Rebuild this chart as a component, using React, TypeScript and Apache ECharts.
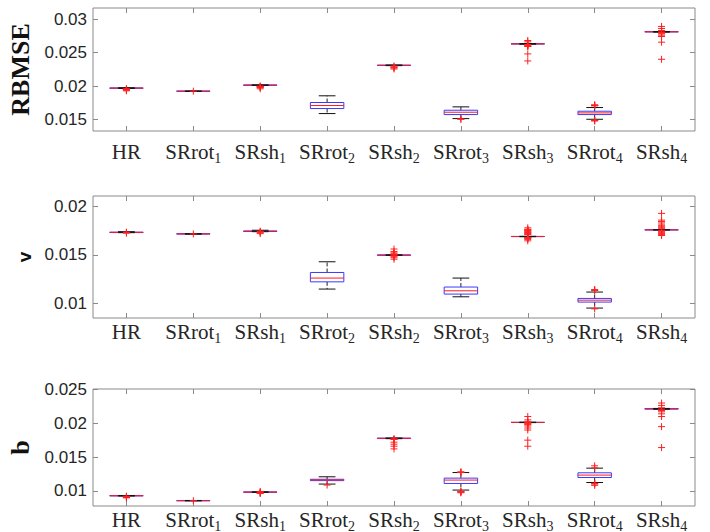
import React, { useEffect, useRef } from "react";
import * as echarts from "echarts";

const categories = ["HR", "SRrot1", "SRsh1", "SRrot2", "SRsh2", "SRrot3", "SRsh3", "SRrot4", "SRsh4"];

// box stats per category: [lowerWhisker, q1, median, q3, upperWhisker]
const rbmseBoxes = [
  [0.01965, 0.01968, 0.0197, 0.01972, 0.01975],
  [0.01922, 0.01923, 0.01924, 0.01925, 0.01926],
  [0.0201, 0.02012, 0.02014, 0.02016, 0.02018],
  [0.0159, 0.01665, 0.0171, 0.01755, 0.01855],
  [0.02305, 0.02308, 0.0231, 0.02312, 0.02315],
  [0.01515, 0.01575, 0.0161, 0.0164, 0.0169],
  [0.02625, 0.02628, 0.0263, 0.02632, 0.02635],
  [0.01505, 0.01575, 0.016, 0.01625, 0.0168],
  [0.02805, 0.02808, 0.0281, 0.02812, 0.02815],
];
const rbmseOutliers = [
  [0.0196, 0.01955, 0.0195, 0.01948, 0.01945, 0.0194, 0.0193],
  [0.01924],
  [0.02, 0.01995, 0.0199, 0.01985, 0.0198, 0.0196],
  [],
  [0.023, 0.02285, 0.0228, 0.0227, 0.02255],
  [0.0151, 0.01505],
  [0.0268, 0.0266, 0.0262, 0.0261, 0.026, 0.02595, 0.0259, 0.0248, 0.02375],
  [0.0172, 0.01715, 0.0171, 0.01705, 0.0149, 0.01485, 0.0148],
  [0.0289, 0.0286, 0.0283, 0.0282, 0.028, 0.0279, 0.0278, 0.0276, 0.0274, 0.02655, 0.024],
];

const vBoxes = [
  [0.0173, 0.01731, 0.01733, 0.01735, 0.0174],
  [0.01715, 0.01716, 0.01717, 0.01718, 0.01719],
  [0.0174, 0.01742, 0.01745, 0.01747, 0.01755],
  [0.01145, 0.0122, 0.01259, 0.01317, 0.01428],
  [0.01495, 0.01496, 0.01497, 0.01498, 0.015],
  [0.01065, 0.01093, 0.01127, 0.01166, 0.01259],
  [0.01688, 0.01689, 0.0169, 0.01691, 0.01692],
  [0.00948, 0.0101, 0.0103, 0.01048, 0.01114],
  [0.01757, 0.01758, 0.01759, 0.0176, 0.01761],
];
const vOutliers = [
  [0.01735, 0.0173, 0.01725],
  [0.01717],
  [0.01745, 0.0174, 0.0173, 0.0172],
  [],
  [0.0156, 0.01535, 0.0152, 0.0151, 0.01505, 0.015, 0.0149, 0.01485, 0.0147, 0.01455],
  [],
  [0.0178, 0.01765, 0.0176, 0.01755, 0.0175, 0.0174, 0.01735, 0.0173, 0.0172, 0.01715, 0.0171, 0.0168, 0.01675, 0.0167, 0.0166, 0.01645],
  [0.0114, 0.01135, 0.0113, 0.0094],
  [0.0193, 0.0186, 0.01845, 0.0183, 0.0181, 0.018, 0.0179, 0.0178, 0.0177, 0.0175, 0.0174, 0.0173, 0.0172, 0.0171, 0.017],
];

const bBoxes = [
  [0.00922, 0.00924, 0.00926, 0.00928, 0.0093],
  [0.0085, 0.00852, 0.00853, 0.00854, 0.00856],
  [0.00976, 0.00978, 0.0098, 0.00982, 0.00984],
  [0.01099, 0.0115, 0.0116, 0.0117, 0.01207],
  [0.01772, 0.01774, 0.01777, 0.0178, 0.01782],
  [0.0101, 0.01108, 0.01158, 0.01187, 0.0127],
  [0.0201, 0.02012, 0.02013, 0.02014, 0.02016],
  [0.01122, 0.01196, 0.01232, 0.01266, 0.01335],
  [0.02208, 0.0221, 0.02214, 0.02218, 0.0222],
];
const bOutliers = [
  [0.0092, 0.0091, 0.00905, 0.009, 0.00895],
  [0.00853],
  [0.0099, 0.0098, 0.0097, 0.00965, 0.0096],
  [0.01084],
  [0.0177, 0.01765, 0.0176, 0.0172, 0.0169, 0.0166, 0.0162],
  [0.0128, 0.01275, 0.0127, 0.0099, 0.00985, 0.0098, 0.0097],
  [0.021, 0.0205, 0.0202, 0.0201, 0.02, 0.0199, 0.0198, 0.0196, 0.0193, 0.019, 0.0175, 0.0166],
  [0.0137, 0.0134, 0.0111, 0.01105, 0.011, 0.0108],
  [0.023, 0.02265, 0.0223, 0.0221, 0.0219, 0.0217, 0.0214, 0.021, 0.0195, 0.0164],
];

const panelNames = ["RBMSE", "v", "b"];
const yMins = [0.0133, 0.00845, 0.00774];
const yMaxs = [0.03165, 0.0211, 0.02508];
const yTicks = [
  [0.015, 0.02, 0.025, 0.03],
  [0.01, 0.015, 0.02],
  [0.01, 0.015, 0.02, 0.025],
];

const AXIS_COLOR = "#8a8a8a";
const TEXT_COLOR = "#262626";

function renderBox(params: any, api: any) {
  const i = api.value(0);
  const lw = api.value(1), q1 = api.value(2), md = api.value(3), q3 = api.value(4), uw = api.value(5);
  const cx = api.coord([i, md])[0];
  const y = (v: number) => api.coord([i, v])[1];
  const bw = api.size([1, 0])[0];
  const half = bw * 0.25;
  const cap = bw * 0.125;
  return {
    type: "group",
    children: [
      { type: "line", shape: { x1: cx, y1: y(q3), x2: cx, y2: y(uw) }, style: { stroke: "#222", lineWidth: 1, lineDash: [4, 2] } },
      { type: "line", shape: { x1: cx, y1: y(q1), x2: cx, y2: y(lw) }, style: { stroke: "#222", lineWidth: 1, lineDash: [4, 2] } },
      { type: "rect", shape: { x: cx - half, y: y(q3), width: 2 * half, height: y(q1) - y(q3) }, style: { fill: "none", stroke: "#3a3aff", lineWidth: 1 } },
      { type: "line", shape: { x1: cx - half, y1: y(md), x2: cx + half, y2: y(md) }, style: { stroke: "#ff1a1a", lineWidth: 1 } },
      { type: "line", shape: { x1: cx - cap, y1: y(uw), x2: cx + cap, y2: y(uw) }, style: { stroke: "#111", lineWidth: 1 } },
      { type: "line", shape: { x1: cx - cap, y1: y(lw), x2: cx + cap, y2: y(lw) }, style: { stroke: "#111", lineWidth: 1 } },
    ],
  };
}

function renderPlus(params: any, api: any) {
  const p = api.coord([api.value(0), api.value(1)]);
  const s = 3.5;
  return {
    type: "group",
    children: [
      { type: "line", shape: { x1: p[0] - s, y1: p[1], x2: p[0] + s, y2: p[1] }, style: { stroke: "#ff2020", lineWidth: 1 } },
      { type: "line", shape: { x1: p[0], y1: p[1] - s, x2: p[0], y2: p[1] + s }, style: { stroke: "#ff2020", lineWidth: 1 } },
    ],
  };
}

function catLabel(value: string) {
  const m = value.match(/^(\D+)(\d)$/);
  if (m) return `{m|${m[1]}}{s|${m[2]}}`;
  return `{m|${value}}`;
}

export default function App() {
  const ref = useRef<HTMLDivElement>(null);
  useEffect(() => {
    document.body.style.margin = "0";
    if (!ref.current) return;
    const chart = echarts.init(ref.current, undefined, { renderer: "svg" });
    const boxes = [rbmseBoxes, vBoxes, bBoxes];
    const outs = [rbmseOutliers, vOutliers, bOutliers];
    const grids = [
      { left: 93, right: 15, top: 8, height: 123 },
      { left: 93, right: 15, top: 196, height: 122 },
      { left: 93, right: 15, top: 389, height: 117 },
    ].map((g) => ({
      ...g,
      show: true,
      borderColor: AXIS_COLOR,
      borderWidth: 1,
      backgroundColor: "#fff",
      containLabel: false,
      outerBoundsMode: "none",
    }));
    const labelMargins = [10, 3, 3];

    const xAxes: any[] = [];
    const yAxes: any[] = [];
    const series: any[] = [];
    const nameStyles = [
      { fontFamily: "Liberation Serif", fontWeight: "bold", fontSize: 26, gap: 54 },
      { fontFamily: "Liberation Sans", fontWeight: "bold", fontSize: 19, gap: 56 },
      { fontFamily: "Liberation Serif", fontWeight: "bold", fontSize: 26, gap: 55 },
    ];
    for (let k = 0; k < 3; k++) {
      xAxes.push({
        type: "category",
        gridIndex: k,
        position: "bottom",
        data: categories,
        boundaryGap: true,
        axisLine: { show: false },
        axisTick: { show: true, inside: true, alignWithLabel: true, length: 5, lineStyle: { color: AXIS_COLOR } },
        axisLabel: {
          show: true,
          interval: 0,
          margin: labelMargins[k],
          formatter: catLabel,
          rich: {
            m: { fontFamily: "Liberation Serif", fontSize: 21, color: TEXT_COLOR, lineHeight: 22 },
            s: { fontFamily: "Liberation Serif", fontSize: 14, color: TEXT_COLOR, lineHeight: 22, padding: [12, 0, 0, 0] },
          },
        },
        splitLine: { show: false },
      });
      xAxes.push({
        type: "category",
        gridIndex: k,
        position: "top",
        data: categories,
        boundaryGap: true,
        axisLine: { show: false },
        axisTick: { show: true, inside: true, alignWithLabel: true, length: 5, lineStyle: { color: AXIS_COLOR } },
        axisLabel: { show: false },
        splitLine: { show: false },
      });
      const ns = nameStyles[k];
      yAxes.push({
        type: "value",
        gridIndex: k,
        position: "left",
        min: yMins[k],
        max: yMaxs[k],
        name: panelNames[k],
        nameLocation: "middle",
        nameRotate: 90,
        nameGap: ns.gap,
        nameTextStyle: { fontFamily: ns.fontFamily, fontWeight: ns.fontWeight, fontSize: ns.fontSize, color: "#111" },
        axisLine: { show: false },
        axisTick: { show: true, inside: true, length: 5, customValues: yTicks[k], lineStyle: { color: AXIS_COLOR } },
        axisLabel: {
          show: true,
          customValues: yTicks[k],
          margin: 6,
          fontFamily: "Liberation Sans",
          fontSize: 17,
          color: TEXT_COLOR,
          formatter: (v: number) => String(v),
        },
        splitLine: { show: false },
      });
      yAxes.push({
        type: "value",
        gridIndex: k,
        position: "right",
        min: yMins[k],
        max: yMaxs[k],
        axisLine: { show: false },
        axisTick: { show: true, inside: true, length: 5, customValues: yTicks[k], lineStyle: { color: AXIS_COLOR } },
        axisLabel: { show: false },
        splitLine: { show: false },
      });
      series.push({
        type: "custom",
        xAxisIndex: 2 * k,
        yAxisIndex: 2 * k,
        renderItem: renderBox,
        encode: { x: 0, y: [1, 2, 3, 4, 5] },
        data: boxes[k].map((b, i) => [i, ...b]),
        z: 2,
      });
      series.push({
        type: "custom",
        xAxisIndex: 2 * k,
        yAxisIndex: 2 * k,
        renderItem: renderPlus,
        encode: { x: 0, y: 1 },
        data: outs[k].flatMap((arr, i) => arr.map((v) => [i, v])),
        z: 3,
      });
    }

    chart.setOption({
      animation: false,
      backgroundColor: "#fff",
      grid: grids,
      xAxis: xAxes,
      yAxis: yAxes,
      series,
    });
    return () => chart.dispose();
  }, []);
  return <div ref={ref} style={{ width: 710, height: 532 }} />;
}
